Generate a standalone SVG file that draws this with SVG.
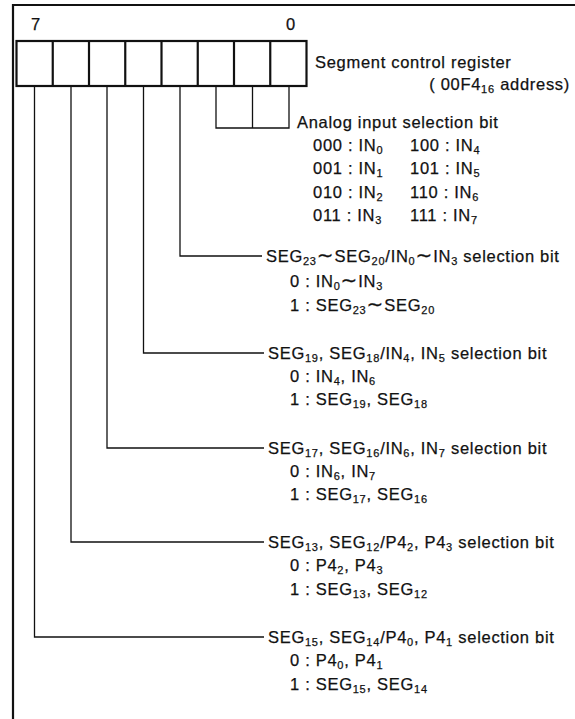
<svg xmlns="http://www.w3.org/2000/svg" width="575" height="719" viewBox="0 0 575 719">
<style>
text{font-family:"Liberation Sans",Arial,sans-serif;font-size:16.5px;letter-spacing:0.7px;fill:#111;stroke:#111;stroke-width:0.25}
.s{font-size:11px;letter-spacing:0.8px}
.t{font-family:"DejaVu Sans",sans-serif;font-size:20px;letter-spacing:1px}
.ln{stroke:#111;stroke-width:1.3;fill:none}
.frame{stroke:#111;stroke-width:2.2;fill:none}
.cell{stroke:#111;stroke-width:2.2;fill:#fff}
</style>
<rect width="575" height="719" fill="#fff"/>
<g id="frame"><polyline class="frame" points="13,719 13,5 575,5"/></g>
<g id="register">
<text x="31" y="30">7</text>
<text x="286" y="30">0</text>
<rect class="cell" x="16.5" y="41" width="290" height="45"/>
<line class="cell" x1="52.75" y1="41" x2="52.75" y2="86"/>
<line class="cell" x1="89" y1="41" x2="89" y2="86"/>
<line class="cell" x1="125.25" y1="41" x2="125.25" y2="86"/>
<line class="cell" x1="161.5" y1="41" x2="161.5" y2="86"/>
<line class="cell" x1="197.75" y1="41" x2="197.75" y2="86"/>
<line class="cell" x1="234" y1="41" x2="234" y2="86"/>
<line class="cell" x1="270.25" y1="41" x2="270.25" y2="86"/>
<text x="315" y="68">Segment control register</text>
<text x="570" y="90" text-anchor="end">(  00F4<tspan class="s" dy="3">16</tspan><tspan dy="-3"> address)</tspan></text>
</g>
<g id="connectors">
<polyline class="ln" points="216,87 216,128 289,128 289,87"/>
<line class="ln" x1="252.5" y1="87" x2="252.5" y2="128"/>
<polyline class="ln" points="180,87 180,256 262,256"/>
<polyline class="ln" points="143.5,87 143.5,353 264,353"/>
<polyline class="ln" points="107,87 107,448 264,448"/>
<polyline class="ln" points="71,87 71,542 264,542"/>
<polyline class="ln" points="34.5,87 34.5,637 264,637"/>
</g>
<g id="analog">
<text x="297" y="128">Analog input selection bit</text>
<text x="313" y="151">000 : IN<tspan class="s" dy="3">0</tspan></text>
<text x="410" y="151">100 : IN<tspan class="s" dy="3">4</tspan></text>
<text x="313" y="174">001 : IN<tspan class="s" dy="3">1</tspan></text>
<text x="410" y="174">101 : IN<tspan class="s" dy="3">5</tspan></text>
<text x="313" y="198">010 : IN<tspan class="s" dy="3">2</tspan></text>
<text x="410" y="198">110 : IN<tspan class="s" dy="3">6</tspan></text>
<text x="313" y="221">011 : IN<tspan class="s" dy="3">3</tspan></text>
<text x="410" y="221">111 : IN<tspan class="s" dy="3">7</tspan></text>
</g>
<g id="bit3">
<text x="266" y="262">SEG<tspan class="s" dy="3">23</tspan><tspan class="t" dy="-3">∼</tspan><tspan>SEG</tspan><tspan class="s" dy="3">20</tspan><tspan dy="-3">/IN</tspan><tspan class="s" dy="3">0</tspan><tspan class="t" dy="-3">∼</tspan><tspan>IN</tspan><tspan class="s" dy="3">3</tspan><tspan dy="-3"> selection bit</tspan></text>
<text x="290" y="287">0 : IN<tspan class="s" dy="3">0</tspan><tspan class="t" dy="-3">∼</tspan><tspan>IN</tspan><tspan class="s" dy="3">3</tspan></text>
<text x="290" y="311">1 : SEG<tspan class="s" dy="3">23</tspan><tspan class="t" dy="-3">∼</tspan><tspan>SEG</tspan><tspan class="s" dy="3">20</tspan></text>
</g>
<g id="bit4">
<text x="268" y="359">SEG<tspan class="s" dy="3">19</tspan><tspan dy="-3">, SEG</tspan><tspan class="s" dy="3">18</tspan><tspan dy="-3">/IN</tspan><tspan class="s" dy="3">4</tspan><tspan dy="-3">, IN</tspan><tspan class="s" dy="3">5</tspan><tspan dy="-3"> selection bit</tspan></text>
<text x="290" y="382">0 : IN<tspan class="s" dy="3">4</tspan><tspan dy="-3">, IN</tspan><tspan class="s" dy="3">6</tspan></text>
<text x="290" y="405">1 : SEG<tspan class="s" dy="3">19</tspan><tspan dy="-3">, SEG</tspan><tspan class="s" dy="3">18</tspan></text>
</g>
<g id="bit5">
<text x="268" y="454">SEG<tspan class="s" dy="3">17</tspan><tspan dy="-3">, SEG</tspan><tspan class="s" dy="3">16</tspan><tspan dy="-3">/IN</tspan><tspan class="s" dy="3">6</tspan><tspan dy="-3">, IN</tspan><tspan class="s" dy="3">7</tspan><tspan dy="-3"> selection bit</tspan></text>
<text x="290" y="477">0 : IN<tspan class="s" dy="3">6</tspan><tspan dy="-3">, IN</tspan><tspan class="s" dy="3">7</tspan></text>
<text x="290" y="500">1 : SEG<tspan class="s" dy="3">17</tspan><tspan dy="-3">, SEG</tspan><tspan class="s" dy="3">16</tspan></text>
</g>
<g id="bit6">
<text x="268" y="548">SEG<tspan class="s" dy="3">13</tspan><tspan dy="-3">, SEG</tspan><tspan class="s" dy="3">12</tspan><tspan dy="-3">/P4</tspan><tspan class="s" dy="3">2</tspan><tspan dy="-3">, P4</tspan><tspan class="s" dy="3">3</tspan><tspan dy="-3"> selection bit</tspan></text>
<text x="290" y="571">0 : P4<tspan class="s" dy="3">2</tspan><tspan dy="-3">, P4</tspan><tspan class="s" dy="3">3</tspan></text>
<text x="290" y="595">1 : SEG<tspan class="s" dy="3">13</tspan><tspan dy="-3">, SEG</tspan><tspan class="s" dy="3">12</tspan></text>
</g>
<g id="bit7">
<text x="268" y="643">SEG<tspan class="s" dy="3">15</tspan><tspan dy="-3">, SEG</tspan><tspan class="s" dy="3">14</tspan><tspan dy="-3">/P4</tspan><tspan class="s" dy="3">0</tspan><tspan dy="-3">, P4</tspan><tspan class="s" dy="3">1</tspan><tspan dy="-3"> selection bit</tspan></text>
<text x="290" y="666">0 : P4<tspan class="s" dy="3">0</tspan><tspan dy="-3">, P4</tspan><tspan class="s" dy="3">1</tspan></text>
<text x="290" y="690">1 : SEG<tspan class="s" dy="3">15</tspan><tspan dy="-3">, SEG</tspan><tspan class="s" dy="3">14</tspan></text>
</g>
</svg>
